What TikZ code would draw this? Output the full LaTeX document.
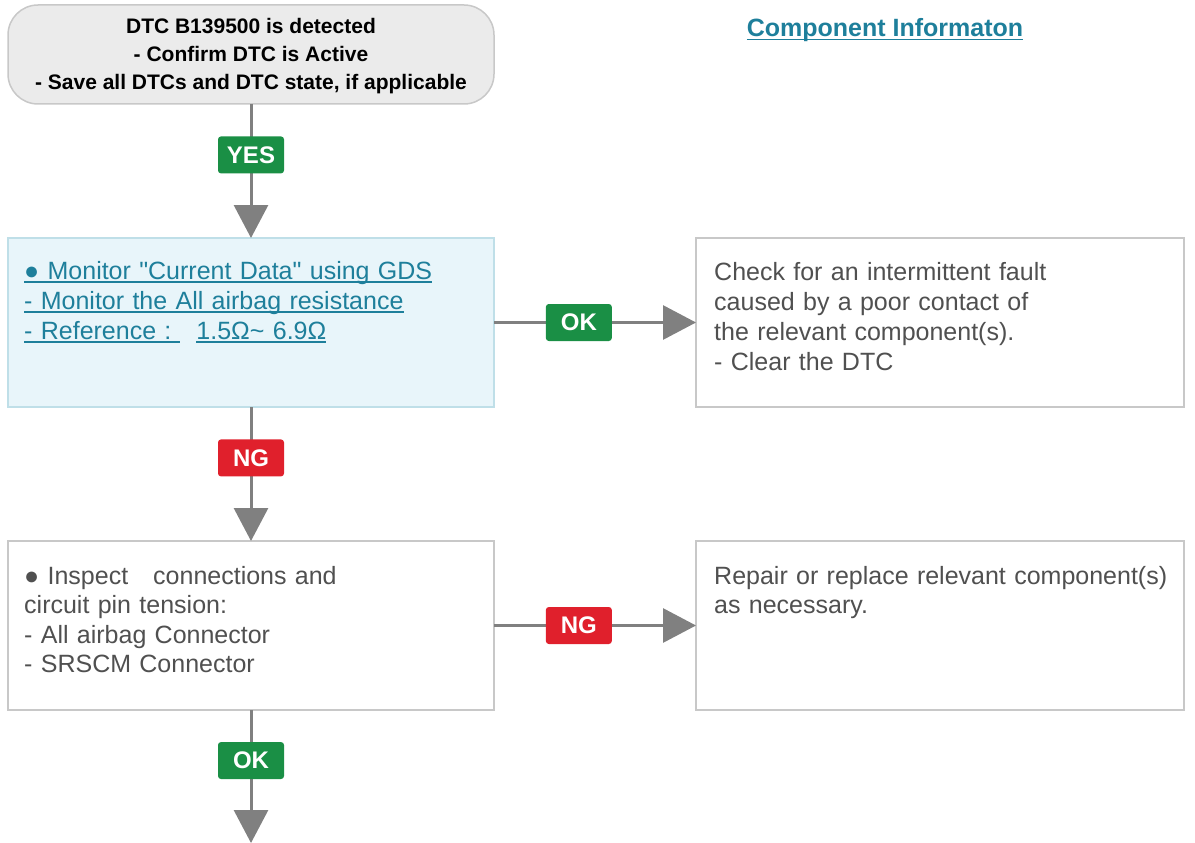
\documentclass[tikz,border=0pt]{standalone}
\usepackage{fontspec}
\setmainfont{Liberation Sans}[Ligatures=TeXOff]
\usetikzlibrary{arrows.meta}
\usetikzlibrary{positioning}

\definecolor{linegray}{HTML}{808080}
\definecolor{boxgray}{HTML}{C8C8C8}
\definecolor{headfill}{HTML}{EBEBEB}
\definecolor{infofill}{HTML}{E8F5FA}
\definecolor{infoline}{HTML}{BFDFE8}
\definecolor{teal}{HTML}{1E7F9B}
\definecolor{bodygray}{HTML}{505050}
\definecolor{okgreen}{HTML}{1A8F45}
\definecolor{ngred}{HTML}{E0202C}

\newcommand\ulink[1]{\leavevmode\setbox0\hbox{#1}\rlap{\rule[-4pt]{\wd0}{1.8pt}}\box0}

\begin{document}
\begin{tikzpicture}[x=1pt,y=-1pt] %% flow chart
	\tikzstyle{start}=[rectangle,rounded corners=30pt,draw=boxgray,fill=headfill,line width=1.5pt,minimum width=486pt,minimum height=99pt,outer sep=0pt];
	\tikzstyle{stepbox}=[rectangle,draw=boxgray,fill=white,line width=1.5pt,minimum height=169pt,outer sep=0pt];
	\tikzstyle{info}=[stepbox,draw=infoline,fill=infofill];
	\tikzstyle{body}=[anchor=base west,inner sep=0pt,text width=460pt,align=left,text=bodygray,font=\fontsize{25}{30}\selectfont];
	\tikzstyle{tag}=[rectangle,rounded corners=3pt,minimum width=66pt,minimum height=37pt,inner sep=0pt,text=white,font=\fontsize{24}{24}\selectfont\bfseries];
	\tikzstyle{flow}=[linegray,line width=3pt,-{Triangle[length=33pt,width=34pt]}];
	\useasboundingbox (0,0) rectangle (1195,843);
	\node[start] (dtc) at (251,54.5) {};
	\node[align=center,inner sep=0pt,font=\fontsize{21}{28}\selectfont\bfseries] (dtctxt) at ([yshift=-2pt]dtc.center) {DTC B139500 is detected\\- Confirm DTC is Active\\- Save all DTCs and DTC state, if applicable};
	\node[anchor=center,text=teal,font=\fontsize{25}{30}\selectfont\bfseries] (cinfo) at (885,30) {\ulink{Component Informaton}};
	\node[info,minimum width=486pt] (mon) at (251,322.5) {};
	\node[stepbox,minimum width=488pt] (chk) at (940,322.5) {};
	\node[stepbox,minimum width=486pt] (insp) at (251,625.5) {};
	\node[stepbox,minimum width=488pt] (rep) at (940,625.5) {};
	\coordinate (next) at (251,843);
	\node[body,text=teal] (montxt) at ([xshift=16pt,yshift=-41pt]mon.north west) {\ulink{● Monitor "Current Data" using GDS}\\\ulink{- Monitor the All airbag resistance}\\\ulink{- Reference :\ }\ \ \ulink{1.5Ω{\char"7E} 6.9Ω}};
	\node[body] (chktxt) at ([xshift=18pt,yshift=-42pt]chk.north west) {Check for an intermittent fault\\caused by a poor contact of\\the relevant component(s).\\- Clear the DTC};
	\node[body,font=\fontsize{25}{29.5}\selectfont] (insptxt) at ([xshift=16pt,yshift=-43pt]insp.north west) {● Inspect\ \ \ connections and\\circuit pin tension:\\- All airbag Connector\\- SRSCM Connector};
	\node[body,font=\fontsize{25}{29.5}\selectfont] (reptxt) at ([xshift=18pt,yshift=-43pt]rep.north west) {Repair or replace relevant component(s)\\as necessary.};
	\draw[flow] (dtc.south) -- node[tag,fill=okgreen,pos=0.38]{YES} (mon.north);
	\draw[flow] (mon.east) -- node[tag,fill=okgreen,pos=0.42]{OK} (chk.west);
	\draw[flow] (mon.south) -- node[tag,fill=ngred,pos=0.38]{NG} (insp.north);
	\draw[flow] (insp.east) -- node[tag,fill=ngred,pos=0.42]{NG} (rep.west);
	\draw[flow] (insp.south) -- node[tag,fill=okgreen,pos=0.38]{OK} (next);
\end{tikzpicture}
\end{document}
